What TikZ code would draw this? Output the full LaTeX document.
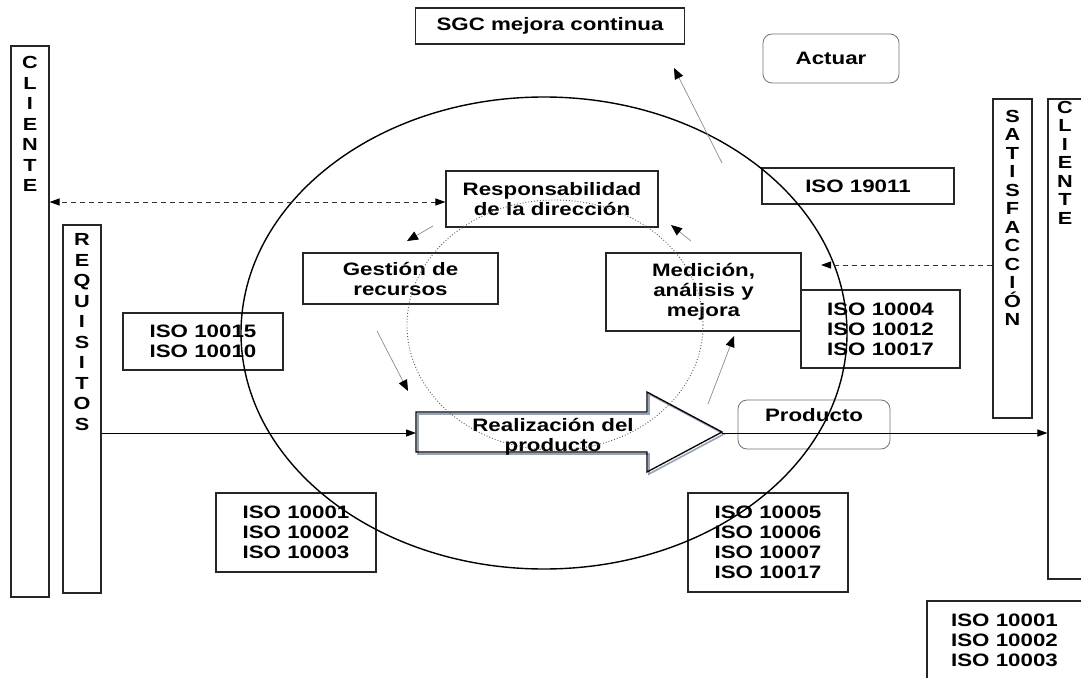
\documentclass[tikz,border=0pt]{standalone}
\usepackage{fontspec}
\setmainfont{Liberation Sans}[FakeStretch=1.24]
\usetikzlibrary{arrows.meta}
\newcommand{\lbl}{\bfseries\fontsize{18}{20}\selectfont}
\newcommand{\vlbl}{\bfseries\fontsize{17.5}{18.5}\selectfont}
\newcommand{\vlblr}{\bfseries\fontsize{17.5}{20.5}\selectfont}
\tikzset{
  box/.style={draw=black!85, line width=1.1pt, inner sep=0pt, align=center, font=\lbl},
  rbox/.style={draw=black!55, line width=0.8pt, rounded corners=9pt, inner sep=0pt, align=center, font=\lbl},
  vbox/.style={draw=black!85, line width=1.1pt, inner sep=0pt},
  vtext/.style={inner sep=0pt, align=center, font=\vlbl, anchor=north},
  tip/.style={-{Triangle[black,length=11pt,width=9pt]}},
  thinarrow/.style={tip, draw=black!45, line width=0.7pt},
  solidarrow/.style={-{Triangle[black,length=10pt,width=7pt]}, draw=black, line width=1pt},
  dasharrow/.style={{Triangle[black,length=10pt,width=7pt]}-{Triangle[black,length=10pt,width=7pt]}, draw=black!80, line width=1pt, dash pattern=on 5pt off 4pt},
  dasharrowone/.style={-{Triangle[black,length=10pt,width=7pt]}, draw=black!80, line width=1pt, dash pattern=on 5pt off 4pt},
}
\begin{document}
\begin{tikzpicture}[x=1pt,y=-1pt]
\useasboundingbox (0,0) rectangle (1081,677);
\fill[white] (0,0) rectangle (1081,677);
\clip (0,0) rectangle (1081,677);

% side columns
\node[vbox, minimum width=38, minimum height=551] (cliL) at (30,321.5) {};
\node[vtext, font=\vlblr, yshift=-11pt] (cliLt) at (cliL.north) {C\\L\\I\\E\\N\\T\\E};
\node[vbox, minimum width=38, minimum height=368] (req) at (82,409) {};
\node[vtext, font=\vlblr, yshift=-9pt] (reqt) at (req.north) {R\\E\\Q\\U\\I\\S\\I\\T\\O\\S};
\node[vbox, minimum width=39, minimum height=319] (sat) at (1012.5,258.5) {};
\node[vtext, yshift=-11.5pt] (satt) at (sat.north) {S\\A\\T\\I\\S\\F\\A\\C\\C\\I\\Ó\\N};
\node[vbox, minimum width=34, minimum height=480] (cliR) at (1065,339) {};
\node[vtext, yshift=-2.5pt] (cliRt) at (cliR.north) {C\\L\\I\\E\\N\\T\\E};

% boxes
\node[box, minimum width=269, minimum height=36] (sgc) at (550,26) {SGC mejora continua};
\node[rbox, minimum width=136, minimum height=49] (actuar) at (831,58.5) {Actuar};
\node[box, minimum width=192, minimum height=36] (iso19011) at (858,186) {ISO 19011};
\node[box, minimum width=212, minimum height=56] (resp) at (552,199) {Responsabilidad\\de la dirección};
\node[box, minimum width=195, minimum height=51] (gest) at (400.5,278.5) {Gestión de\\recursos};
\node[box, minimum width=195, minimum height=78] (med) at (703.5,292) {Medición,\\análisis y\\mejora};
\node[box, minimum width=159, minimum height=78] (iso10004) at (880.5,329) {ISO 10004\\ISO 10012\\ISO 10017};
\node[box, minimum width=160, minimum height=57] (iso10015) at (203,341.5) {ISO 10015\\ISO 10010};
\node[box, minimum width=160, minimum height=79] (iso10001) at (296,532.5) {ISO 10001\\ISO 10002\\ISO 10003};
\node[box, minimum width=160, minimum height=99] (iso10005) at (768,542.5) {ISO 10005\\ISO 10006\\ISO 10007\\ISO 10017};
\node[rbox, minimum width=152, minimum height=49, text depth=18.6pt] (producto) at (814,424.5) {Producto};
\node[box, minimum width=155, minimum height=78] (isobr) at (1004.5,640) {ISO 10001\\ISO 10002\\ISO 10003};

% big arrow "Realizacion del producto"
\draw[line width=1.6pt, draw={rgb,255:red,150;green,162;blue,182}, line join=miter]
  (418,414) -- (649,414) -- (649,394) -- (724,434) -- (649,474) -- (649,454) -- (418,454) -- cycle;
\draw[line width=1.3pt, draw=black, line join=miter]
  (416,412) -- (647,412) -- (647,392) -- (722,432) -- (647,472) -- (647,452) -- (416,452) -- cycle;
\coordinate (rtail) at (416,433);
\coordinate (rtip) at (722,433);
\node[inner sep=0pt, align=center, font=\lbl] (realiz) at (553,437) {Realización del\\producto};

% ellipses
\draw[line width=1.4pt] (544,333) ellipse [x radius=303, y radius=236];
\draw[dotted, draw=black!65, line width=0.9pt] (555,325) ellipse [x radius=148, y radius=125];

% main connectors
\draw[solidarrow] (rtail -| req.east) -- (rtail);
\draw[solidarrow] (rtip) -- (rtip -| cliR.west);
\coordinate (respin) at ([yshift=-3pt]resp.west);
\draw[dasharrow] (respin) -- (respin -| cliL.east);
\coordinate (medin) at (821,265);
\draw[dasharrowone] (medin -| sat.west) -- (medin);

% cycle arrows
\coordinate (a1s) at (433,226); \coordinate (a1e) at (407,241);
\draw[thinarrow] (a1s) -- (a1e);
\coordinate (a2s) at (377,331); \coordinate (a2e) at (408,391);
\draw[thinarrow] (a2s) -- (a2e);
\coordinate (a3s) at (708,404); \coordinate (a3e) at (734,336);
\draw[thinarrow] (a3s) -- (a3e);
\coordinate (a4s) at (691,241); \coordinate (a4e) at (671,225);
\draw[thinarrow] (a4s) -- (a4e);
\coordinate (a5s) at (722,163); \coordinate (a5e) at (674,68);
\draw[thinarrow] (a5s) -- (a5e);
\end{tikzpicture}
\end{document}
